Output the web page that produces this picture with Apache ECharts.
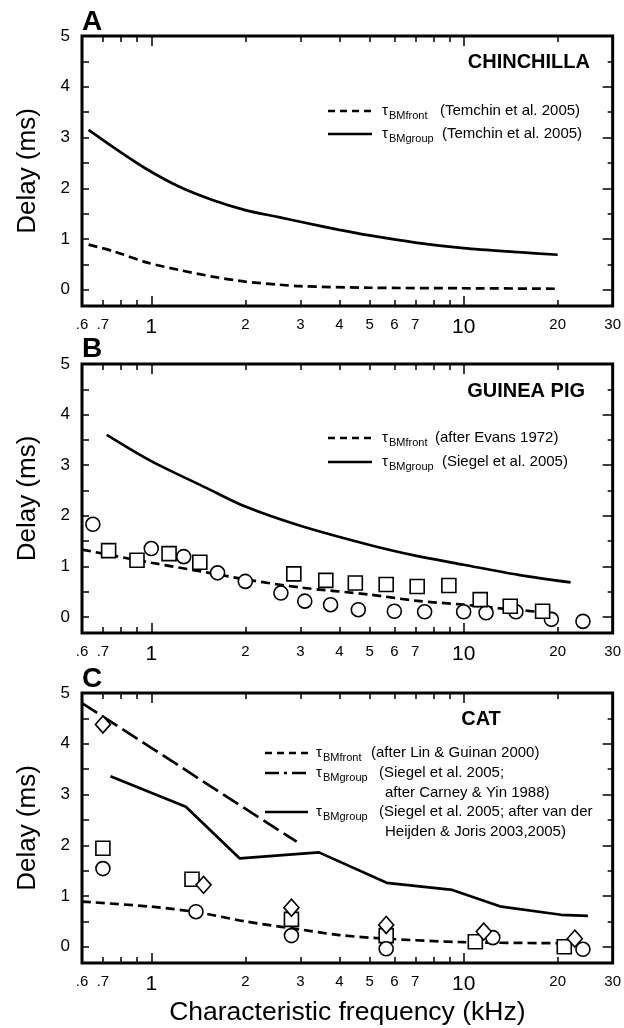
<!DOCTYPE html>
<html><head><meta charset="utf-8">
<script src="https://cdn.jsdelivr.net/npm/echarts@6/dist/echarts.min.js"></script>
<style>html,body{margin:0;padding:0;background:#fff}#c{width:624px;height:1028px}</style>
</head><body><div id="c"></div>
<script>
// ---- tick definitions ----
const xMin = 0.6, xMax = 30;
const xTickValues = [0.6, 0.7, 1, 2, 3, 4, 5, 6, 7, 10, 20, 30];
const xTickLabels = ['.6', '.7', '1', '2', '3', '4', '5', '6', '7', '10', '20', '30'];
const xBigLabels = ['1', '10'];
const xMinorTicks = [0.7, 0.8, 0.9, 2, 3, 4, 5, 6, 7, 8, 9, 20];
const xMajorTicks = [1, 10];
const yMin = -0.32, yMax = 5;
const yTickValues = [0, 0.5, 1, 1.5, 2, 2.5, 3, 3.5, 4, 4.5, 5];
const yLabelValues = [0, 1, 2, 3, 4, 5];

// ---- Panel A: chinchilla ----
const chinFront = [[0.63,0.89],[0.755,0.76],[0.965,0.54],[1.23,0.39],[1.57,0.26],[2,0.16],[2.56,0.10],[3,0.07],[5,0.04],[10,0.03],[20,0.02]];
const chinGroup = [[0.63,3.15],[0.755,2.81],[0.965,2.38],[1.23,2.03],[1.57,1.77],[2,1.57],[2.56,1.43],[3,1.34],[4,1.18],[5,1.07],[7,0.93],[10,0.82],[15,0.74],[20,0.69]];

// ---- Panel B: guinea pig ----
const gpFront = [[0.6,1.33],[0.7,1.25],[1,1.07],[1.5,0.88],[2,0.74],[3,0.58],[5,0.44],[7,0.32],[10,0.24],[14,0.15],[18,0.09]];
const gpGroup = [[0.72,3.60],[1,3.08],[1.5,2.55],[2,2.18],[3,1.80],[5,1.42],[7,1.21],[10,1.03],[15,0.83],[22,0.68]];
const gpCircles = [[0.65,1.83],[1.0,1.35],[1.27,1.19],[1.63,0.87],[2.0,0.70],[2.6,0.47],[3.1,0.31],[3.75,0.24],[4.6,0.14],[6.0,0.11],[7.5,0.10],[10.0,0.10],[11.8,0.08],[14.7,0.10],[19.1,-0.05],[24.1,-0.09]];
const gpSquares = [[0.73,1.31],[0.90,1.12],[1.14,1.25],[1.43,1.08],[2.86,0.85],[3.62,0.72],[4.5,0.67],[5.65,0.64],[7.1,0.60],[8.97,0.62],[11.3,0.34],[14.1,0.21],[17.9,0.11]];

// ---- Panel C: cat ----
const catFront = [[0.6,0.89],[1,0.79],[1.4,0.68],[2,0.50],[3,0.34],[4,0.23],[5.6,0.16],[10,0.09],[21,0.07]];
const catGroupCY = [[0.6,4.80],[1,3.92],[2,2.72],[2.92,2.07]];
const catGroupVH = [[0.74,3.36],[1.29,2.76],[1.92,1.74],[3.44,1.86],[5.67,1.26],[9.2,1.12],[13.2,0.79],[20.5,0.63],[25,0.61]];
const catSquares = [[0.70,1.94],[1.35,1.33],[2.81,0.54],[5.65,0.22],[10.9,0.10],[21.0,0.00]];
const catDiamonds = [[0.70,4.38],[1.47,1.22],[2.81,0.77],[5.65,0.43],[11.6,0.30],[22.7,0.16]];
const catCircles = [[0.70,1.54],[1.39,0.69],[2.81,0.22],[5.65,-0.04],[12.4,0.18],[24.1,-0.05]];

const FONT = 'Liberation Sans, Arial, Helvetica, sans-serif';
const L = Math.log10;
const grids = [
  {left: 82, top: 36, width: 533, height: 270},
  {left: 82, top: 364, width: 533, height: 269},
  {left: 82, top: 693, width: 533, height: 270}
];

function xLabelFmt(v) {
  for (let i = 0; i < xTickValues.length; i++) {
    if (Math.abs(L(xTickValues[i]) - v) < 1e-6) {
      const t = xTickLabels[i];
      return xBigLabels.indexOf(t) >= 0 ? '{big|' + t + '}' : '{sm|' + t + '}';
    }
  }
  return '';
}

const xAxes = [], yAxes = [], series = [];
const tickStyle = {color: '#000', width: 1.5};
const noLine = {show: false, onZero: false};
grids.forEach((g, p) => {
  // data axis (log)
  xAxes.push({type: 'log', logBase: 10, gridIndex: p, min: xMin, max: xMax, position: 'bottom', show: false, axisLine: noLine});
  // bottom: labels + minor ticks
  const bottom = {
    type: 'value', gridIndex: p, min: L(xMin), max: L(xMax), position: 'bottom',
    axisLine: noLine, splitLine: {show: false},
    axisTick: {show: true, inside: true, length: 6, lineStyle: tickStyle, customValues: xMinorTicks.map(L)},
    axisLabel: {show: true, customValues: xTickValues.map(L), formatter: xLabelFmt, margin: 11, color: '#000',
      rich: {big: {fontSize: 21, fontFamily: FONT, color: '#000'}, sm: {fontSize: 15, fontFamily: FONT, color: '#000'}}}
  };
  if (p === 2) {
    bottom.name = 'Characteristic frequency (kHz)';
    bottom.nameLocation = 'middle';
    bottom.nameGap = 36;
    bottom.nameTextStyle = {fontSize: 26.5, fontFamily: FONT, color: '#000'};
  }
  xAxes.push(bottom);
  xAxes.push({type: 'value', gridIndex: p, min: L(xMin), max: L(xMax), position: 'bottom',
    axisLine: noLine, splitLine: {show: false}, axisLabel: {show: false},
    axisTick: {show: true, inside: true, length: 10, lineStyle: tickStyle, customValues: xMajorTicks.map(L)}});
  xAxes.push({type: 'value', gridIndex: p, min: L(xMin), max: L(xMax), position: 'top',
    axisLine: noLine, splitLine: {show: false}, axisLabel: {show: false},
    axisTick: {show: true, inside: true, length: 6, lineStyle: tickStyle, customValues: xMinorTicks.map(L)}});
  xAxes.push({type: 'value', gridIndex: p, min: L(xMin), max: L(xMax), position: 'top',
    axisLine: noLine, splitLine: {show: false}, axisLabel: {show: false},
    axisTick: {show: true, inside: true, length: 10, lineStyle: tickStyle, customValues: xMajorTicks.map(L)}});

  yAxes.push({type: 'value', gridIndex: p, min: yMin, max: yMax, position: 'left',
    name: 'Delay (ms)', nameLocation: 'middle', nameGap: 41, nameRotate: 90,
    nameTextStyle: {fontSize: 26, fontFamily: FONT, color: '#000'},
    axisLine: noLine, splitLine: {show: false},
    axisTick: {show: true, inside: true, length: 7, lineStyle: tickStyle, customValues: yTickValues},
    axisLabel: {show: true, customValues: yLabelValues, fontSize: 17, fontFamily: FONT, color: '#000', margin: 12}});
  yAxes.push({type: 'value', gridIndex: p, min: yMin, max: yMax, position: 'right',
    axisLine: noLine, splitLine: {show: false}, axisLabel: {show: false},
    axisTick: {show: true, inside: true, length: 5, lineStyle: tickStyle, customValues: yTickValues}});
  yAxes.push({type: 'value', gridIndex: p, min: yMin, max: yMax, position: 'right',
    axisLine: noLine, splitLine: {show: false}, axisLabel: {show: false},
    axisTick: {show: true, inside: true, length: 10, lineStyle: tickStyle, customValues: yLabelValues}});
});

function lineS(p, data, dash, smooth) {
  return {type: 'line', xAxisIndex: p * 5, yAxisIndex: p * 3, data: data, showSymbol: false, symbol: 'none',
    smooth: smooth ? 0.3 : false, lineStyle: {color: '#000', width: 2.7, type: dash || 'solid'}, z: 3, silent: true};
}
function markS(p, data, symbol, size) {
  return {type: 'scatter', xAxisIndex: p * 5, yAxisIndex: p * 3, data: data, symbol: symbol, symbolSize: size,
    itemStyle: {color: '#fff', borderColor: '#000', borderWidth: 1.6, opacity: 1}, z: 4, silent: true};
}
const shortDash = [9, 5];
const longDash = [18, 6];
series.push(lineS(0, chinFront, shortDash, true));
series.push(lineS(0, chinGroup, 'solid', true));
series.push(lineS(1, gpFront, shortDash, true));
series.push(lineS(1, gpGroup, 'solid', true));
series.push(markS(1, gpCircles, 'circle', 14));
series.push(markS(1, gpSquares, 'rect', 14));
series.push(lineS(2, catFront, shortDash, true));
series.push(lineS(2, catGroupCY, longDash, false));
series.push(lineS(2, catGroupVH, 'solid', false));
series.push(markS(2, catSquares, 'rect', 14));
series.push(markS(2, catCircles, 'circle', 14));
series.push(markS(2, catDiamonds, 'diamond', [15, 17]));

// ---- text / legend graphics ----
const gfx = [];
function txt(x, y, text, size, opts) {
  opts = opts || {};
  gfx.push({type: 'text', x: x, y: y, silent: true, z: 10,
    style: {text: text, fontSize: size, fontFamily: FONT, fontWeight: opts.bold ? 'bold' : 'normal', fill: '#000',
      align: opts.align || 'left', verticalAlign: 'middle', textAlign: opts.align || 'left', textVerticalAlign: 'middle'}});
}
function sample(x1, x2, y, dash) {
  gfx.push({type: 'line', silent: true, z: 10, shape: {x1: x1, y1: y, x2: x2, y2: y},
    style: {stroke: '#000', lineWidth: 2.7, lineDash: dash || null}});
}
function tau(x, y, sub) {
  txt(x, y, 'τ', 15);
  txt(x + 7, y + 5, sub, 11);
}
// panel letters
txt(82, 22, 'A', 28, {bold: true});
txt(82, 349, 'B', 28, {bold: true});
txt(82, 679, 'C', 28, {bold: true});
// panel titles
txt(590, 62, 'CHINCHILLA', 20, {bold: true, align: 'right'});
txt(585, 391, 'GUINEA PIG', 20, {bold: true, align: 'right'});
txt(481, 719, 'CAT', 20, {bold: true, align: 'center'});
// legend A
sample(328, 372, 111, [7, 5]); tau(382, 111, 'BMfront'); txt(440, 111, '(Temchin et al. 2005)', 15);
sample(328, 372, 134); tau(382, 134, 'BMgroup'); txt(442, 134, '(Temchin et al. 2005)', 15);
// legend B
sample(328, 372, 438, [7, 5]); tau(382, 438, 'BMfront'); txt(435, 438, '(after Evans 1972)', 15);
sample(328, 372, 462); tau(382, 462, 'BMgroup'); txt(442, 462, '(Siegel et al. 2005)', 15);
// legend C
sample(265, 308, 753, [7, 5]); tau(316, 753, 'BMfront'); txt(371, 753, '(after Lin & Guinan 2000)', 15);
sample(265, 308, 773, [14, 5, 3, 5]); tau(316, 773, 'BMgroup'); txt(379, 773, '(Siegel et al. 2005;', 15);
txt(385, 793, 'after Carney & Yin 1988)', 15);
sample(265, 308, 812); tau(316, 812, 'BMgroup'); txt(379, 812, '(Siegel et al. 2005; after van der', 15);
txt(385, 832, 'Heijden & Joris 2003,2005)', 15);

const chart = echarts.init(document.getElementById('c'), null, {renderer: 'canvas'});
chart.setOption({
  backgroundColor: '#fff',
  animation: false,
  textStyle: {fontFamily: FONT, color: '#000'},
  grid: grids.map(g => Object.assign({show: true, borderColor: '#000', borderWidth: 3, backgroundColor: 'transparent', containLabel: false}, g)),
  xAxis: xAxes,
  yAxis: yAxes,
  series: series,
  graphic: gfx
});
</script>
</body></html>
